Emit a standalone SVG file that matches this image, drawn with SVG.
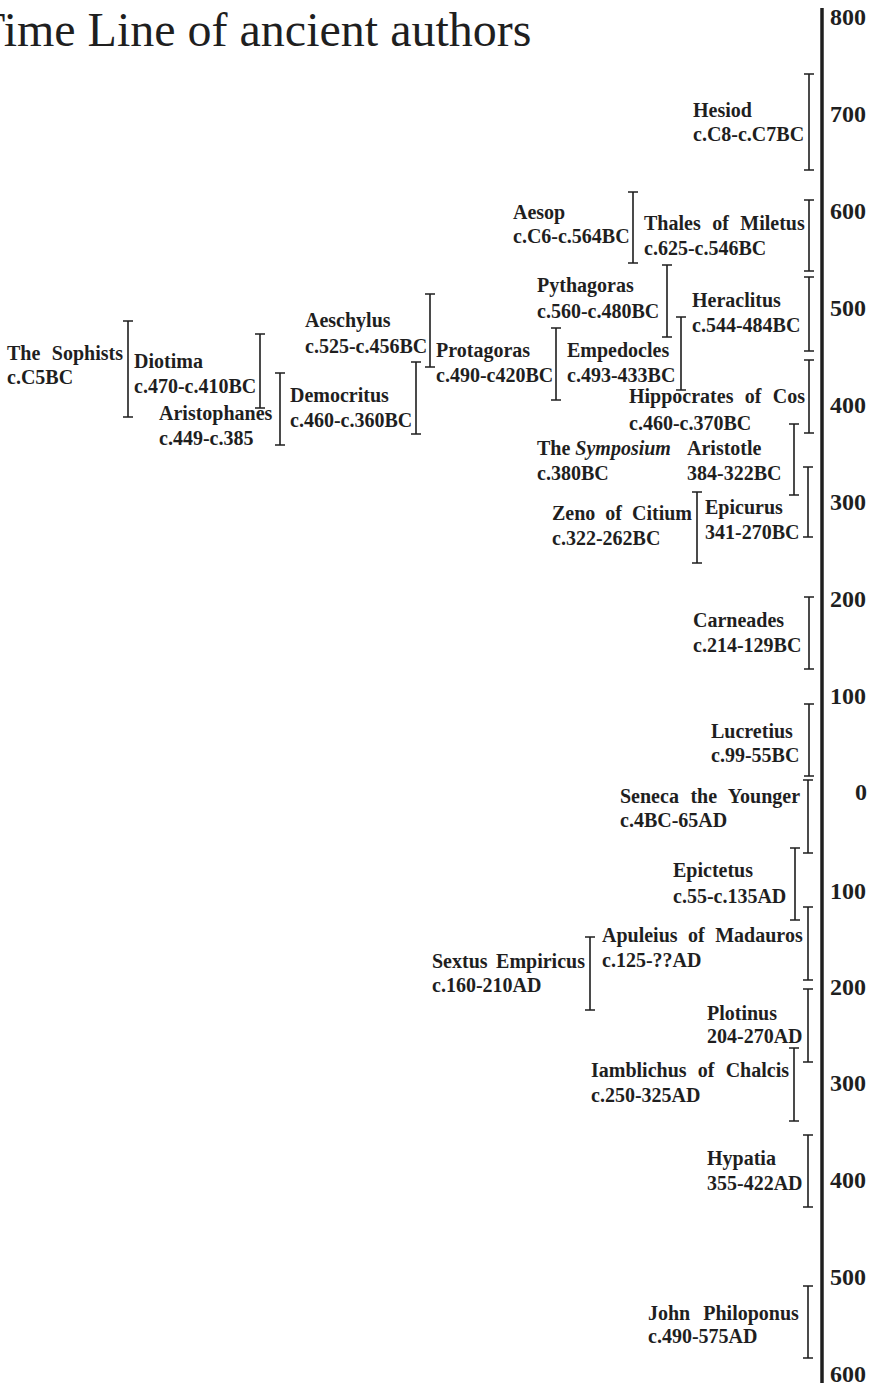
<svg xmlns="http://www.w3.org/2000/svg" width="879" height="1385" viewBox="0 0 879 1385">
<style>
text{font-family:"Liberation Serif","Times New Roman",serif;fill:#1f1f1f}
.t{font-size:48px}
.ax{font-size:24px;font-weight:bold;text-anchor:end}
.n{font-size:20px;font-weight:bold}
.w{word-spacing:6px}
.br{stroke:#1f1f1f;stroke-width:1.6;fill:none}
.axis{stroke:#1f1f1f;stroke-width:3.5}
</style>
<rect width="879" height="1385" fill="#fff"/>
<text class="t" x="-24" y="46">Time Line of ancient authors</text>
<g id="axis">
<line class="axis" x1="822" y1="8" x2="822" y2="1383"/>
<text class="ax" x="866" y="25">800</text>
<text class="ax" x="866" y="122">700</text>
<text class="ax" x="866" y="219">600</text>
<text class="ax" x="866" y="316">500</text>
<text class="ax" x="866" y="413">400</text>
<text class="ax" x="866" y="510">300</text>
<text class="ax" x="866" y="607">200</text>
<text class="ax" x="866" y="704">100</text>
<text class="ax" x="867" y="800">0</text>
<text class="ax" x="866" y="899">100</text>
<text class="ax" x="866" y="995">200</text>
<text class="ax" x="866" y="1091">300</text>
<text class="ax" x="866" y="1188">400</text>
<text class="ax" x="866" y="1285">500</text>
<text class="ax" x="866" y="1382">600</text>
</g>
<g id="hesiod"><path class="br" d="M804 74H814M809 74V170M804 170H814"/><text class="n" x="693" y="117">Hesiod</text><text class="n" x="693" y="141">c.C8-c.C7BC</text></g>
<g id="aesop"><path class="br" d="M628 192H638M633 192V263M628 263H638"/><text class="n" x="513" y="219">Aesop</text><text class="n" x="513" y="243">c.C6-c.564BC</text></g>
<g id="thales"><path class="br" d="M804 200H814M809 200V271M804 271H814"/><text class="n w" x="644" y="230" style="word-spacing:6.5px">Thales of Miletus</text><text class="n" x="644" y="255">c.625-c.546BC</text></g>
<g id="pythagoras"><path class="br" d="M662 265H672M667 265V337M662 337H672"/><text class="n" x="537" y="292">Pythagoras</text><text class="n" x="537" y="318">c.560-c.480BC</text></g>
<g id="heraclitus"><path class="br" d="M804 277H814M809 277V351M804 351H814"/><text class="n" x="692" y="307">Heraclitus</text><text class="n" x="692" y="332">c.544-484BC</text></g>
<g id="aeschylus"><path class="br" d="M425 294H435M430 294V367M425 367H435"/><text class="n" x="305" y="327">Aeschylus</text><text class="n" x="305" y="353">c.525-c.456BC</text></g>
<g id="sophists"><path class="br" d="M123 321H133M128 321V417M123 417H133"/><text class="n" x="7" y="360" style="word-spacing:6.5px">The Sophists</text><text class="n" x="7" y="384">c.C5BC</text></g>
<g id="diotima"><path class="br" d="M255 334H265M260 334V408M255 408H265"/><text class="n" x="134" y="368">Diotima</text><text class="n" x="134" y="393">c.470-c.410BC</text></g>
<g id="empedocles"><path class="br" d="M676 317H686M681 317V390M676 390H686"/><text class="n" x="567" y="357">Empedocles</text><text class="n" x="567" y="382">c.493-433BC</text></g>
<g id="protagoras"><path class="br" d="M551 328H561M556 328V400M551 400H561"/><text class="n" x="436" y="357">Protagoras</text><text class="n" x="436" y="382">c.490-c420BC</text></g>
<g id="democritus"><path class="br" d="M411 362H421M416 362V434M411 434H421"/><text class="n" x="290" y="402">Democritus</text><text class="n" x="290" y="427">c.460-c.360BC</text></g>
<g id="aristophanes"><path class="br" d="M275 373H285M280 373V445M275 445H285"/><text class="n" x="159" y="420">Aristophanes</text><text class="n" x="159" y="445">c.449-c.385</text></g>
<g id="hippocrates"><path class="br" d="M804 360H814M809 360V433M804 433H814"/><text class="n" x="629" y="403" style="word-spacing:6.3px">Hippocrates of Cos</text><text class="n" x="629" y="430">c.460-c.370BC</text></g>
<g id="symposium"><text class="n" x="537" y="455">The <tspan font-style="italic">Symposium</tspan></text><text class="n" x="537" y="480">c.380BC</text></g>
<g id="aristotle"><path class="br" d="M789 424H799M794 424V495M789 495H799"/><text class="n" x="687" y="455">Aristotle</text><text class="n" x="687" y="480">384-322BC</text></g>
<g id="epicurus"><path class="br" d="M803 467H813M808 467V537M803 537H813"/><text class="n" x="705" y="514">Epicurus</text><text class="n" x="705" y="539">341-270BC</text></g>
<g id="zeno"><path class="br" d="M692 492H702M697 492V563M692 563H702"/><text class="n" x="552" y="520" style="word-spacing:5px">Zeno of Citium</text><text class="n" x="552" y="545">c.322-262BC</text></g>
<g id="carneades"><path class="br" d="M804 597H814M809 597V669M804 669H814"/><text class="n" x="693" y="627">Carneades</text><text class="n" x="693" y="652">c.214-129BC</text></g>
<g id="lucretius"><path class="br" d="M804 704H814M809 704V776M804 776H814"/><text class="n" x="711" y="738">Lucretius</text><text class="n" x="711" y="762">c.99-55BC</text></g>
<g id="seneca"><path class="br" d="M803 780H813M808 780V853M803 853H813"/><text class="n" x="620" y="803" style="word-spacing:6.5px">Seneca the Younger</text><text class="n" x="620" y="827">c.4BC-65AD</text></g>
<g id="epictetus"><path class="br" d="M790 848H800M795 848V920M790 920H800"/><text class="n" x="673" y="877">Epictetus</text><text class="n" x="673" y="903">c.55-c.135AD</text></g>
<g id="apuleius"><path class="br" d="M803 907H813M808 907V980M803 980H813"/><text class="n" x="602" y="942" style="word-spacing:5.5px">Apuleius of Madauros</text><text class="n" x="602" y="967">c.125-??AD</text></g>
<g id="sextus"><path class="br" d="M585 937H595M590 937V1010M585 1010H595"/><text class="n" x="432" y="968" style="word-spacing:3.5px">Sextus Empiricus</text><text class="n" x="432" y="992">c.160-210AD</text></g>
<g id="plotinus"><path class="br" d="M803 989H813M808 989V1062M803 1062H813"/><text class="n" x="707" y="1020">Plotinus</text><text class="n" x="707" y="1043">204-270AD</text></g>
<g id="iamblichus"><path class="br" d="M789 1048H799M794 1048V1121M789 1121H799"/><text class="n" x="591" y="1077" style="word-spacing:6.2px">Iamblichus of Chalcis</text><text class="n" x="591" y="1102">c.250-325AD</text></g>
<g id="hypatia"><path class="br" d="M803 1135H813M808 1135V1207M803 1207H813"/><text class="n" x="707" y="1165">Hypatia</text><text class="n" x="707" y="1190">355-422AD</text></g>
<g id="philoponus"><path class="br" d="M803 1286H813M808 1286V1358M803 1358H813"/><text class="n" x="648" y="1320" style="word-spacing:8px">John Philoponus</text><text class="n" x="648" y="1343">c.490-575AD</text></g>
</svg>
